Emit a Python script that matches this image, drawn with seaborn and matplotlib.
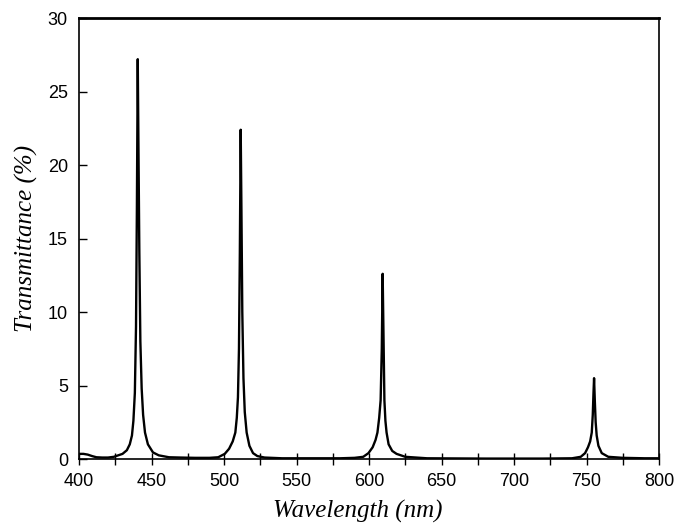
import matplotlib
matplotlib.use("Agg")
import matplotlib.pyplot as plt
import seaborn as sns
import pandas as pd
from matplotlib.ticker import MultipleLocator

# Wavelength (nm) and transmittance (%)
wavelength = [400, 403, 406, 409, 412, 416, 420, 424, 427, 430, 433, 435, 436.5,
              437.5, 438.5, 439.3, 439.9, 440.5, 441.0, 441.6, 442.3, 443.2,
              444.2, 445.5, 447.5, 451, 455, 462, 470, 480, 490,
              496, 500.5, 503.5, 506, 507.8, 508.8, 509.6, 510.3, 510.9, 511.5,
              512.0, 512.6, 513.4, 514.3, 515.6, 517.5, 520, 523, 528, 540,
              560, 580, 590, 596, 599.6, 602.5, 604.5, 605.8, 607.0, 608.0, 608.8,
              609.4, 609.9, 610.6, 611.3, 612.1, 613.5, 616, 619, 625, 640,
              680, 720, 740, 746, 749, 751, 752.5, 753.6, 754.3, 754.8, 755.2,
              755.7, 756.3, 757.0, 758.2, 760.5, 765, 775, 790, 800]
transmittance = [0.35, 0.35, 0.3, 0.2, 0.12, 0.1, 0.1, 0.15, 0.25, 0.35, 0.6, 1.0, 1.6,
                 2.6, 4.5, 9.0, 17.0, 27.2, 21.0, 14.0, 8.0, 4.8,
                 3.0, 1.8, 1.0, 0.45, 0.25, 0.12, 0.1, 0.08, 0.08,
                 0.12, 0.35, 0.7, 1.2, 1.8, 2.8, 4.2, 7.5, 14.0, 22.4,
                 17.0, 10.0, 5.5, 3.2, 1.8, 0.9, 0.4, 0.2, 0.1, 0.05,
                 0.05, 0.05, 0.08, 0.15, 0.4, 0.8, 1.3, 1.8, 2.8, 4.0, 7.5,
                 12.6, 9.0, 4.0, 2.6, 1.8, 1.0, 0.55, 0.35, 0.15, 0.05,
                 0.03, 0.03, 0.05, 0.15, 0.4, 0.8, 1.2, 1.8, 3.0, 4.5, 5.5,
                 4.0, 2.5, 1.6, 0.9, 0.4, 0.15, 0.08, 0.05, 0.05]

x_ticks = [400, 450, 500, 550, 600, 650, 700, 750, 800]
y_ticks = [0, 5, 10, 15, 20, 25, 30]

df = pd.DataFrame({"Wavelength": wavelength, "Transmittance": transmittance})

sns.set_theme(style="white")
plt.rcParams["font.family"] = ["Liberation Sans", "DejaVu Sans"]

fig = plt.figure(figsize=(6.76, 5.27), dpi=100)
ax = fig.add_axes([0.1169, 0.129, 0.858, 0.8368])

sns.lineplot(data=df, x="Wavelength", y="Transmittance", ax=ax,
             color="black", linewidth=1.7, estimator=None, sort=False)

ax.set_xlim(400, 800)
ax.set_ylim(0, 30)
ax.set_xticks(x_ticks)
ax.set_yticks(y_ticks)
ax.xaxis.set_minor_locator(MultipleLocator(25))
ax.tick_params(axis="x", which="both", direction="inout", length=8, width=1,
               color="black", labelsize=13, pad=6, bottom=True, labelcolor="black")
ax.tick_params(axis="y", which="major", direction="in", length=6, width=1,
               color="black", labelsize=13, pad=8, left=True, labelcolor="black")

for side, sp in ax.spines.items():
    sp.set_color("black")
    sp.set_linewidth(1.2)
    sp.set_visible(True)
ax.spines["top"].set_linewidth(2.0)

ax.set_xlabel("Wavelength (nm)", fontsize=18, style="italic",
              family=["Liberation Serif", "DejaVu Serif"], labelpad=7, color="black")
ax.xaxis.label.set_x(0.48)
ax.set_ylabel("Transmittance (%)", fontsize=18, style="italic",
              family=["Liberation Serif", "DejaVu Serif"], labelpad=7, color="black")

fig.savefig("out.png", dpi=100, facecolor="white")
